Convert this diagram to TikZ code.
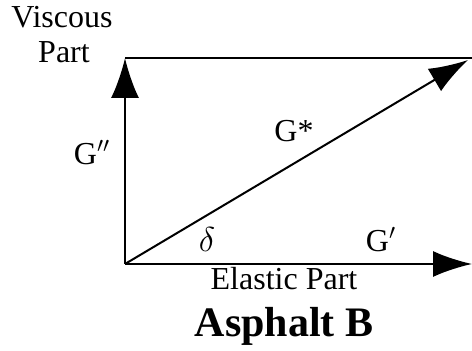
\documentclass[tikz,border=0pt]{standalone}
\usepackage{fontspec}
\setmainfont{Liberation Serif}
\usetikzlibrary{arrows.meta}
\tikzset{
  vec/.style={draw=black,line width=1pt,-{Latex[length=19.5pt,width=13pt]}},
  axis/.style={draw=black,line width=1pt},
  lab/.style={anchor=base,inner sep=0pt,font=\fontsize{16}{19}\selectfont},
  ttl/.style={anchor=base,inner sep=0pt,font=\fontsize{21}{24}\bfseries},
}
\begin{document}
\begin{tikzpicture}[x=0.5pt,y=0.5pt]
\useasboundingbox (0,0) rectangle (472,351);
\coordinate (o) at (125,87);
\coordinate (v) at (125,293);
\coordinate (t) at (472,293);
\coordinate (e) at (472,87);
\coordinate (g) at (468,291);
\draw[vec,-{Latex[length=20pt,width=14pt]}] (o) -- (v);
\draw[axis] (v) -- (t);
\draw[vec] (o) -- (e);
\draw[vec] (o) -- (g);
\node[lab] (visc) at (62,323) {Viscous};
\node[lab] (vpart) at (64,288) {Part};
\node[lab] (gpp) at (92,186) {G$''$};
\node[lab] (gstar) at (294,209) {G*};
\node[lab] (dlt) at (207,99) {$\delta$};
\node[lab] (gp) at (381,99) {G$'$};
\node[lab] (elast) at (284,61) {Elastic Part};
\node[ttl] (title) at (284,14) {Asphalt B};
\end{tikzpicture}
\end{document}
